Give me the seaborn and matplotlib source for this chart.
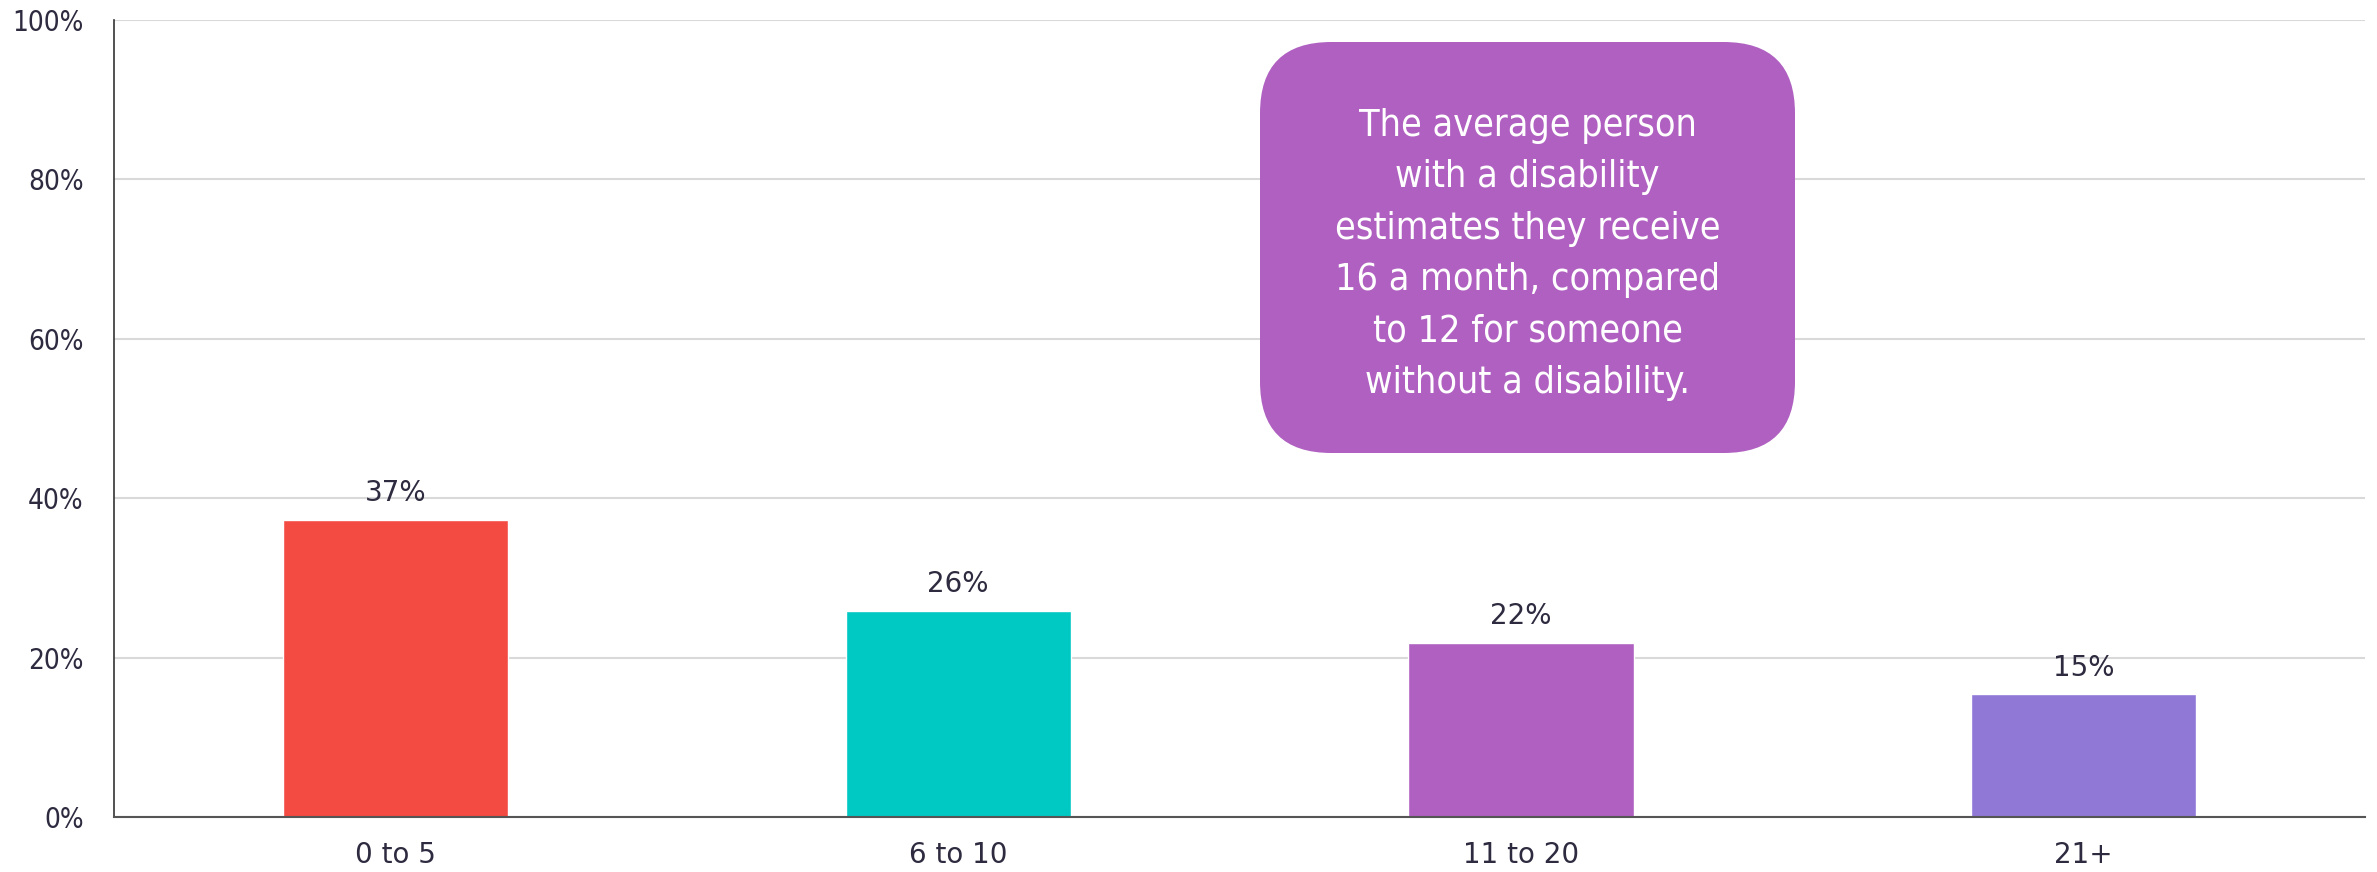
import matplotlib
matplotlib.use("Agg")
import matplotlib.pyplot as plt
import seaborn as sns
import pandas as pd
from matplotlib.patches import FancyBboxPatch

categories = ["0 to 5", "6 to 10", "11 to 20", "21+"]
values = [37.3, 25.9, 21.9, 15.4]
value_labels = ["37%", "26%", "22%", "15%"]
colors = ["#F34A41", "#00C8C3", "#AF60C0", "#8F78D6"]
yticks = [0, 20, 40, 60, 80, 100]
ytick_labels = ["0%", "20%", "40%", "60%", "80%", "100%"]
note = ("The average person\nwith a disability\nestimates they receive\n"
        "16 a month, compared\nto 12 for someone\nwithout a disability.")

sns.set_theme(style="white")
plt.rcParams['font.family'] = ['DejaVu Sans']
text_color = "#2E2A3F"

df = pd.DataFrame({"cat": categories, "val": values})
fig = plt.figure(figsize=(23.77, 8.72), dpi=100)
ax = fig.add_axes([0.048, 0.063, 0.947, 0.914])

sns.barplot(data=df, x="cat", y="val", hue="cat", palette=colors,
            width=0.4, ax=ax, legend=False, saturation=1)

ax.set_ylim(0, 100)
ax.set_yticks(yticks)
ax.set_yticklabels(ytick_labels, fontsize=20, color=text_color, fontstretch="condensed")
ax.tick_params(axis="x", labelsize=20, colors=text_color, length=0, pad=17)
ax.tick_params(axis="y", length=0, pad=22)
for lbl in ax.get_xticklabels():
    lbl.set_color(text_color)
ax.set_xlabel("")
ax.set_ylabel("")
ax.yaxis.grid(True, color="#D9D9D9", linewidth=1.5)
ax.set_axisbelow(True)
for s in ["top", "right"]:
    ax.spines[s].set_visible(False)
ax.spines["left"].set_color("#333333")
ax.spines["bottom"].set_color("#555555")
ax.spines["left"].set_linewidth(1.2)
ax.spines["bottom"].set_linewidth(1.5)

for i, (v, lab) in enumerate(zip(values, value_labels)):
    ax.text(i, v + 1.6, lab, ha="center", va="bottom", fontsize=20, color=text_color)

# annotation box
bx0, by0, bw, bh = 1260 / 2377, 1 - 453 / 872, (1795 - 1260) / 2377, (453 - 42) / 872
box = FancyBboxPatch((bx0, by0), bw, bh, transform=fig.transFigure,
                     boxstyle="round,pad=0,rounding_size=0.03",
                     mutation_aspect=2377 / 872,
                     facecolor="#AF60C0", edgecolor="none", zorder=5)
fig.patches.append(box)
fig.text(bx0 + bw / 2, by0 + bh / 2 - 0.008, note, ha="center", va="center",
         fontsize=27, color="white", linespacing=1.55, zorder=6,
         fontstretch="condensed")

fig.savefig("out.png", dpi=100)
